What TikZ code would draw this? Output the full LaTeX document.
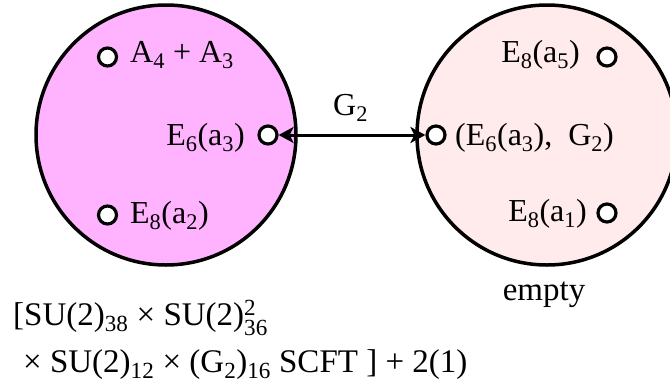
\documentclass[tikz,border=0pt]{standalone}
\usepackage{amsmath}
\usepackage{fontspec}
\setmainfont{Liberation Serif}
\usetikzlibrary{arrows.meta}
\definecolor{leftfill}{HTML}{FFB3FF}
\definecolor{rightfill}{HTML}{FFEBEB}
\newcommand{\sbs}[1]{\textsubscript{#1}}
\newcommand{\supsb}[2]{$^{\text{#1}}_{\text{#2}}$}
\tikzset{
  big/.style={draw=black, line width=3.5pt},
  dot/.style={circle, draw=black, fill=white, line width=3.2pt, minimum size=18pt, inner sep=0pt},
  lbl/.style={inner sep=0pt, font=\fontsize{32}{38}\selectfont},
  bot/.style={inner sep=0pt, font=\fontsize{33}{47}\selectfont},
  dblarrow/.style={line width=3pt, {Stealth[length=15pt,width=16pt,inset=4pt]}-{Stealth[length=15pt,width=16pt,inset=4pt]}},
}
\begin{document}
\begin{tikzpicture}[x=1pt,y=-1pt]
\useasboundingbox (0,0) rectangle (670,386);
\begin{scope}
\clip (0,0) rectangle (670,386);
\draw[big, fill=leftfill] (166,135) circle[radius=130];
\draw[big, fill=rightfill] (547,135) circle[radius=130];
\end{scope}
\node[dot] (d1) at (107.5,57) {};
\node[dot] (d2) at (268,135) {};
\node[dot] (d3) at (107.5,215) {};
\node[dot] (d4) at (607,57) {};
\node[dot] (d5) at (436,135) {};
\node[dot] (d6) at (607,213) {};
\draw[dblarrow] (d2) -- (d5);
\node[lbl, anchor=base west] (t1) at (130,62) {A\sbs{4} + A\sbs{3}};
\node[lbl, anchor=base east] (t2) at (245,145) {E\sbs{6}(a\sbs{3})};
\node[lbl, anchor=base west] (t3) at (130,223) {E\sbs{8}(a\sbs{2})};
\node[lbl, anchor=base east] (t4) at (580,62) {E\sbs{8}(a\sbs{5})};
\node[lbl, anchor=base west] (t5) at (455,145) {(E\sbs{6}(a\sbs{3}),~ G\sbs{2})};
\node[lbl, anchor=base east] (t6) at (587,221) {E\sbs{8}(a\sbs{1})};
\node[lbl, anchor=base west] (g) at (333,115) {G\sbs{2}};
\node[bot, anchor=base] (e) at (544,300) {empty};
\node[bot, anchor=base west, text depth=6pt] (b1) at (13,325) {[SU(2)\sbs{38} × SU(2)\supsb{2}{36}};
\node[bot, anchor=base west, text height=24pt] (b2) at (23,372) {× SU(2)\sbs{12} × (G\sbs{2})\sbs{16} SCFT ] + 2(1)};
\end{tikzpicture}
\end{document}
